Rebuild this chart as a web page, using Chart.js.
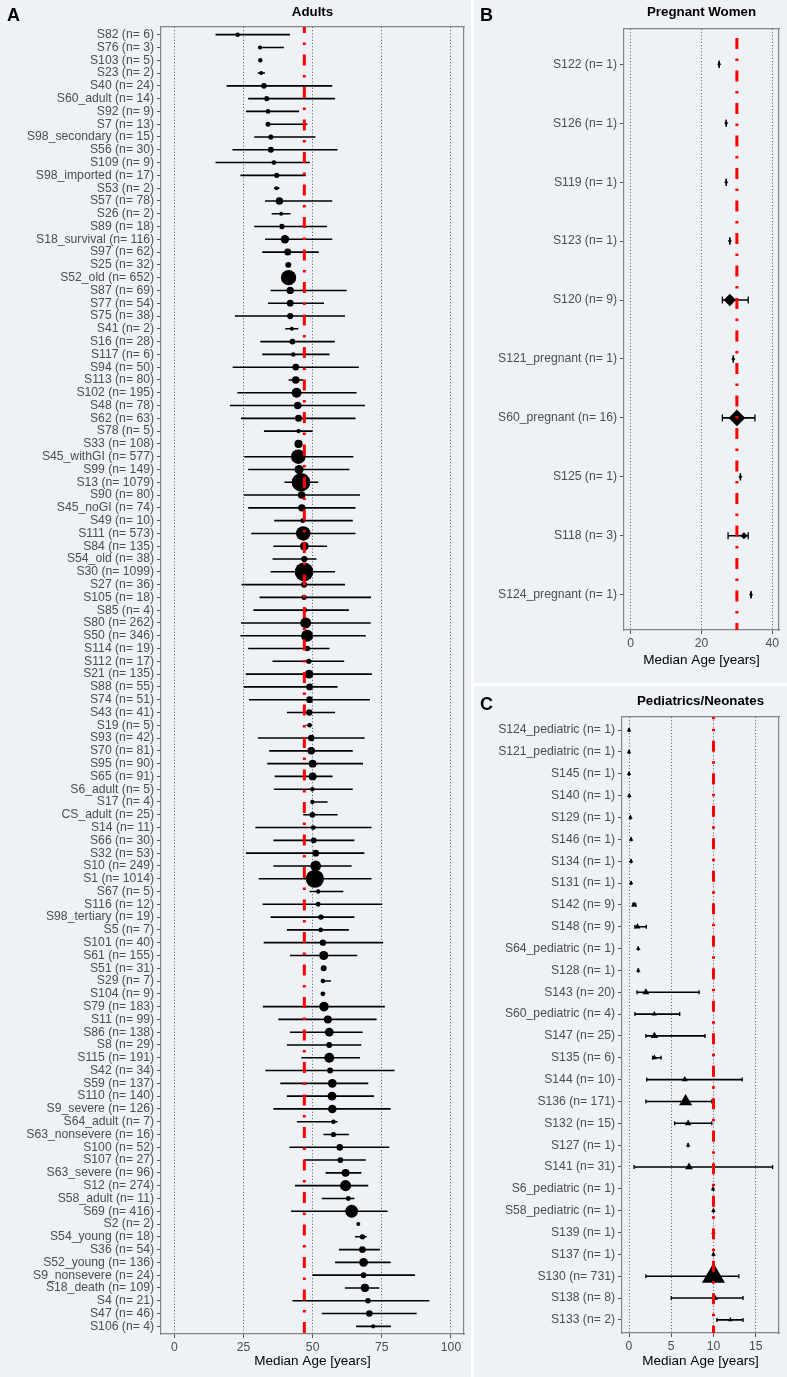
<!DOCTYPE html>
<html>
<head>
<meta charset="utf-8">
<script src="https://cdn.jsdelivr.net/npm/chart.js@4.4.1/dist/chart.umd.min.js"></script>
<style>
body { margin: 0; background: #fff; width: 787px; height: 1377px; position: relative; overflow: hidden; font-family: "Liberation Sans", Arial, sans-serif; }
.panel { position: absolute; background: #eef1f5; }
.panel canvas { position: absolute; left: 0; top: 0; }
.tag { position: absolute; font-weight: bold; font-size: 18px; line-height: 18px; color: #000; }
</style>
</head>
<body>

<div class="panel" style="left:0;top:0;width:471px;height:1377px">
    <canvas id="chartA" width="470" height="1377"></canvas>
    <div class="tag" style="left:7px;top:6px">A</div>
</div>
<div class="panel" style="left:474px;top:0;width:313px;height:683px">
    <canvas id="chartB" width="313" height="683"></canvas>
    <div class="tag" style="left:6px;top:6px">B</div>
</div>
<div class="panel" style="left:474px;top:686px;width:313px;height:691px">
    <canvas id="chartC" width="313" height="691"></canvas>
    <div class="tag" style="left:6px;top:9px">C</div>
</div>

<script>
// ---- A: adults ----
const adultStudies = ['S82','S76','S103','S23','S40','S60_adult','S92','S7','S98_secondary','S56','S109','S98_imported','S53','S57','S26','S89','S18_survival','S97','S25','S52_old','S87','S77','S75','S41','S16','S117','S94','S113','S102','S48','S62','S78','S33','S45_withGI','S99','S13','S90','S45_noGI','S49','S111','S84','S54_old','S30','S27','S105','S85','S80','S50','S114','S112','S21','S88','S74','S43','S19','S93','S70','S95','S65','S6_adult','S17','CS_adult','S14','S66','S32','S10','S1','S67','S116','S98_tertiary','S5','S101','S61','S51','S29','S104','S79','S11','S86','S8','S115','S42','S59','S110','S9_severe','S64_adult','S63_nonsevere','S100','S107','S63_severe','S12','S58_adult','S69','S2','S54_young','S36','S52_young','S9_nonsevere','S18_death','S4','S47','S106'];
const adultN = [6,3,5,2,24,14,9,13,15,30,9,17,2,78,2,18,116,62,32,652,69,54,38,2,28,6,50,80,195,78,63,5,108,577,149,1079,80,74,10,573,135,38,1099,36,18,4,262,346,19,17,135,55,51,41,5,42,81,90,91,5,4,25,11,30,53,249,1014,5,12,19,7,40,155,31,7,9,183,99,138,29,191,34,137,140,126,7,16,52,27,96,274,11,416,2,18,54,136,24,109,21,46,4];
const adultMedian = [22.9,31.0,31.1,31.4,32.4,33.4,33.9,33.9,34.9,34.9,36.0,37.0,36.9,38.0,38.6,38.9,40.0,41.0,41.2,41.3,41.9,41.9,41.9,42.5,42.7,43.0,43.9,43.9,44.2,44.6,44.9,44.9,44.9,44.8,45.1,45.8,46.0,46.1,46.4,46.6,47.0,47.0,46.9,46.9,46.9,47.3,47.5,48.0,48.1,48.6,48.7,48.9,48.9,48.8,48.9,49.5,49.5,50.0,50.0,49.9,49.9,49.9,50.2,50.4,51.1,51.1,50.8,52.0,52.0,53.0,52.9,53.7,54.0,54.0,53.7,53.7,54.1,55.5,56.0,56.0,56.0,56.3,57.1,57.0,57.1,57.5,57.5,59.8,60.0,61.9,61.9,62.9,64.1,66.5,68.0,68.0,68.4,68.4,68.9,70.0,70.5,71.9];
const adultLow = [14.9,30.8,null,30.2,18.9,26.7,25.9,33.5,28.9,21.0,14.9,23.9,36.0,32.8,35.2,28.9,32.8,31.8,null,null,34.8,33.9,21.9,40.1,31.1,31.8,21.1,41.3,22.8,20.1,24.1,32.4,null,25.3,26.7,39.8,25.1,26.7,36.1,27.8,35.8,35.5,34.8,24.3,30.8,28.6,24.1,23.9,26.7,35.5,25.8,25.1,27.0,40.7,47.8,30.2,34.3,33.6,36.3,36.0,49.5,46.6,29.3,35.8,25.9,35.8,30.5,48.9,31.9,34.8,40.7,32.3,41.8,null,53.4,null,32.0,37.6,41.8,40.7,45.9,32.9,38.3,40.7,35.8,44.3,53.9,41.6,47.0,54.7,43.6,53.3,42.2,null,65.3,59.5,58.1,49.9,61.7,42.7,53.3,65.7];
const adultHigh = [41.8,39.6,null,32.8,57.1,58.1,45.1,48.1,51.0,59.0,49.0,47.5,38.0,57.1,42.0,55.2,57.1,52.2,null,null,62.3,54.1,61.7,44.8,58.0,56.1,66.7,46.6,65.9,68.9,65.5,50.0,null,64.7,63.3,52.0,67.1,65.5,64.5,65.5,55.2,51.4,58.1,61.7,71.1,63.1,71.0,69.2,56.1,61.4,71.4,59.0,70.7,58.1,49.8,68.8,64.5,68.2,57.2,64.5,55.4,59.0,71.3,65.1,68.7,64.1,71.3,61.1,75.2,65.1,63.1,75.5,66.1,null,56.6,null,76.1,73.1,68.1,67.6,67.1,79.6,70.1,72.2,78.2,59.0,63.1,77.7,69.2,67.6,70.1,65.1,77.1,null,69.5,74.3,78.2,87.0,74.1,92.2,87.6,78.3];
const adultOverallMedian = 47;

// ---- B: pregnant women ----
const pregnantStudies = ['S122','S126','S119','S123','S120','S121_pregnant','S60_pregnant','S125','S118','S124_pregnant'];
const pregnantN = [1,1,1,1,9,1,16,1,3,1];
const pregnantMedian = [25,27,27,28,28,29,30,31,32,34];
const pregnantLow = [25,27,27,28,25.9,29,25.9,31,27.5,34];
const pregnantHigh = [25,27,27,28,33.2,29,35.1,31,33.2,34];
const pregnantOverallMedian = 30;

// ---- C: pediatrics / neonates ----
const pediatricStudies = ['S124_pediatric','S121_pediatric','S145','S140','S129','S146','S134','S131','S142','S148','S64_pediatric','S128','S143','S60_pediatric','S147','S135','S144','S136','S132','S127','S141','S6_pediatric','S58_pediatric','S139','S137','S130','S138','S133'];
const pediatricN = [1,1,1,1,1,1,1,1,9,9,1,1,20,4,25,6,10,171,15,1,31,1,1,1,1,731,8,2];
const pediatricMedian = [0,0,0,0.04,0.17,0.25,0.25,0.25,0.6,1.0,1.1,1.1,2.0,3.0,3.0,3.0,6.6,6.7,7.0,7.0,7.1,9.95,10,10,10,10,10.2,12.0];
const pediatricLow = [0,0,0,0.04,0.17,0.25,0.25,0.25,0.45,0.7,1.1,1.1,0.95,0.7,2.0,2.8,2.1,2.0,5.4,7.0,0.6,9.95,10,10,10,2.0,5.0,10.4];
const pediatricHigh = [0,0,0,0.04,0.17,0.25,0.25,0.25,0.8,2.05,1.1,1.1,8.3,6.0,9.0,3.8,13.4,9.8,9.8,7.0,17.0,9.95,10,10,10,13.0,13.5,13.5];
const pediatricOverallMedian = 10;

Chart.defaults.font.family = '"Liberation Sans", Arial, sans-serif';
Chart.defaults.animation = false;

// marker radius grows with sqrt(n), like ggplot's size scale
function sizeByN(n, rMin, rMax) {
    const lo = Math.sqrt(Math.min(...n)), hi = Math.sqrt(Math.max(...n));
    return n.map(v => rMin + (rMax - rMin) * (Math.sqrt(v) - lo) / (hi - lo));
}

function drawPanel(id, p) {
    const canvas = document.getElementById(id);
    const rows = p.studies.length;
    const labels = p.studies.map((s, i) => s + ' (n= ' + p.n[i] + ')');
    const medians = p.median.map((m, i) => ({x: m, y: i}));

    const whiskers = [], caps = [];
    p.low.forEach(function(lo, i) {
        if (lo === null) return;
        whiskers.push({x: lo, y: i}, {x: p.high[i], y: i}, {x: NaN, y: NaN}); // NaN breaks the line
        caps.push({x: lo, y: i}, {x: p.high[i], y: i});
    });

    // axis box sizes, so the plot area lands where the reference has it
    const fit = {
        left: p.box.left,
        right: canvas.width - p.box.right,
        top: p.box.top,
        bottom: canvas.height - p.box.bottom
    };

    const frame = {display: true, color: '#858585', width: 1.2};

    const chart = new Chart(canvas, {
        type: 'scatter',
        data: {
            datasets: [
                { // overall median, drawn on top
                    data: [{x: p.ref, y: -1}, {x: p.ref, y: rows}],
                    showLine: true, borderColor: '#ff0000', borderWidth: 3,
                    borderDash: [11, 9.5, 2.5, 9.5], pointRadius: 0, clip: 0
                },
                {
                    data: medians,
                    pointStyle: p.shape,
                    pointRadius: sizeByN(p.n, p.rMin, p.rMax),
                    pointBackgroundColor: '#000', pointBorderWidth: 0
                },
                {
                    data: caps,
                    pointStyle: 'line', pointRotation: 90, pointRadius: p.cap,
                    pointBorderColor: '#000', pointBorderWidth: 1.3
                },
                {
                    data: whiskers,
                    showLine: true, spanGaps: false, borderColor: '#000', borderWidth: 1.6, pointRadius: 0
                }
            ]
        },
        options: {
            responsive: false,
            events: [],
            layout: {padding: 0, autoPadding: false},
            plugins: {legend: {display: false}, tooltip: {enabled: false}},
            scales: {
                x: {
                    type: 'linear', position: 'bottom', min: p.xMin, max: p.xMax,
                    ticks: {stepSize: p.xStep, includeBounds: false, maxRotation: 0, padding: 2, color: '#4d4d4d', font: {size: 12.2}},
                    grid: {color: '#5a5a5a', lineWidth: 1, tickLength: 4, tickColor: '#555', tickWidth: 1},
                    border: {display: true, color: frame.color, width: frame.width, dash: [1, 2.2]},
                    title: {display: true, text: 'Median Age [years]', color: '#000', font: {size: 13.5}, padding: {top: 0, bottom: p.axisTitlePad}},
                    afterFit: function(s) { s.height = fit.bottom; }
                },
                x2: {
                    type: 'linear', position: 'top', min: p.xMin, max: p.xMax,
                    ticks: {display: false}, grid: {display: false}, border: frame,
                    title: {display: true, text: p.title, color: '#000', font: {size: 13.3, weight: 'bold'}, padding: {top: p.titlePad, bottom: 0}},
                    afterFit: function(s) { s.height = fit.top; }
                },
                y: {
                    type: 'linear', position: 'left', reverse: true, min: -0.6, max: rows - 0.4,
                    ticks: {
                        stepSize: 1, includeBounds: false, autoSkip: false, padding: 3,
                        color: '#4d4d4d', font: {size: 12.2},
                        callback: function(v) { return labels[v]; }
                    },
                    grid: {drawOnChartArea: false, tickLength: 4, color: '#555'},
                    border: frame,
                    afterFit: function(s) { s.width = fit.left; }
                },
                y2: {
                    type: 'linear', position: 'right',
                    ticks: {display: false}, grid: {display: false}, border: frame,
                    afterFit: function(s) { s.width = fit.right; }
                }
            }
        }
    });

    // the layout may add label padding; correct the box sizes once and redraw
    const a = chart.chartArea;
    fit.left += p.box.left - a.left;
    fit.right += a.right - p.box.right;
    fit.top += p.box.top - a.top;
    fit.bottom += a.bottom - p.box.bottom;
    chart.update();
}

drawPanel('chartA', {
    studies: adultStudies, n: adultN, median: adultMedian, low: adultLow, high: adultHigh, ref: adultOverallMedian,
    title: 'Adults', shape: 'circle', rMin: 2, rMax: 9.4, cap: 0,
    xMin: -4.8, xMax: 104.7, xStep: 25,
    box: {left: 161, right: 464, top: 27, bottom: 1334}, titlePad: 4.5, axisTitlePad: 8
});

drawPanel('chartB', {
    studies: pregnantStudies, n: pregnantN, median: pregnantMedian, low: pregnantLow, high: pregnantHigh, ref: pregnantOverallMedian,
    title: 'Pregnant Women', shape: 'rectRot', rMin: 2, rMax: 8.3, cap: 3.5,
    xMin: -1.9, xMax: 41.9, xStep: 20,
    box: {left: 150, right: 305, top: 29, bottom: 630}, titlePad: 4.5, axisTitlePad: 15
});

drawPanel('chartC', {
    studies: pediatricStudies, n: pediatricN, median: pediatricMedian, low: pediatricLow, high: pediatricHigh, ref: pediatricOverallMedian,
    title: 'Pediatrics/Neonates', shape: 'triangle', rMin: 2.6, rMax: 13.3, cap: 2,
    xMin: -0.83, xMax: 17.76, xStep: 5,
    box: {left: 148, right: 305, top: 31, bottom: 647}, titlePad: 7, axisTitlePad: 8
});
</script>
</body>
</html>
